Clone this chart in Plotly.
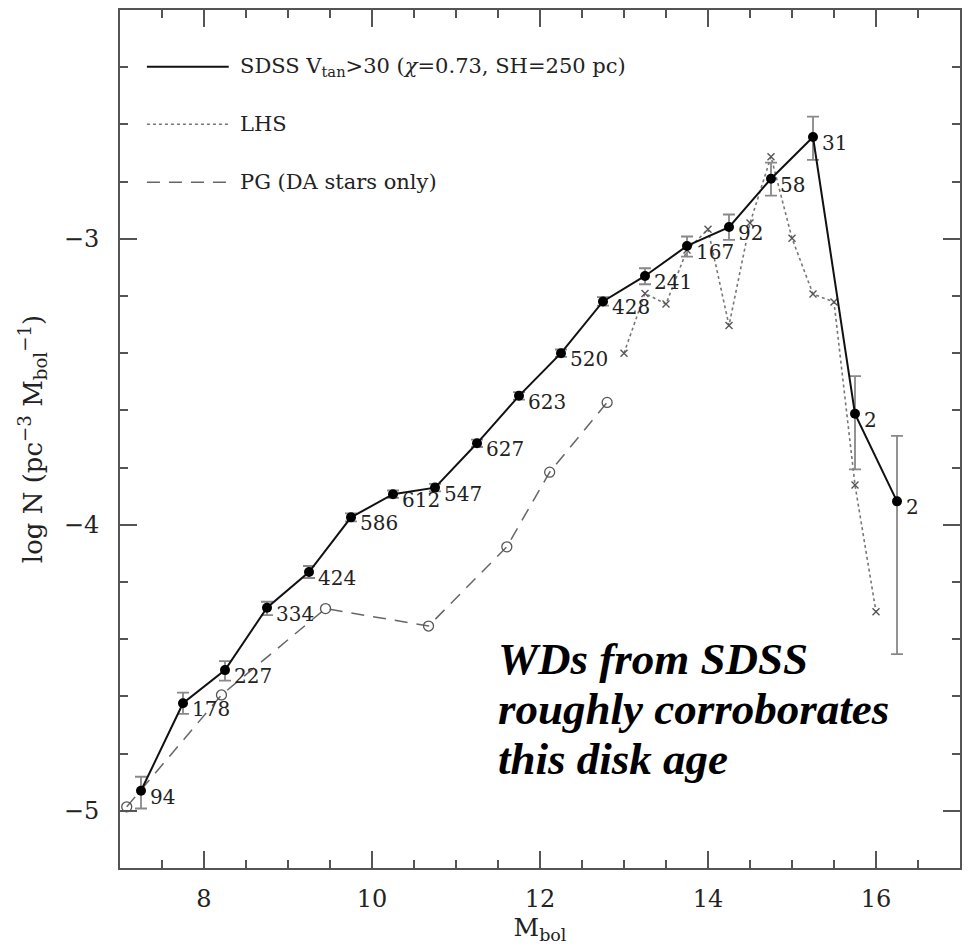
import plotly.graph_objects as go

# ---------------- data ----------------
sdss_m = [7.25, 7.75, 8.25, 8.75, 9.25, 9.75, 10.25, 10.75, 11.25, 11.75,
          12.25, 12.75, 13.25, 13.75, 14.25, 14.75, 15.25, 15.75, 16.25]
sdss_logn = [-4.930, -4.624, -4.508, -4.290, -4.165, -3.974, -3.893, -3.870,
             -3.715, -3.549, -3.400, -3.219, -3.130, -3.025, -2.959, -2.790,
             -2.644, -3.612, -3.918]
sdss_err_up = [0.049, 0.037, 0.031, 0.021, 0.021, 0.014, 0.013, 0.013, 0.013,
               0.013, 0.013, 0.015, 0.027, 0.033, 0.044, 0.056, 0.071, 0.132, 0.229]
sdss_err_dn = [0.062, 0.037, 0.037, 0.026, 0.021, 0.014, 0.013, 0.013, 0.013,
               0.013, 0.013, 0.015, 0.029, 0.037, 0.045, 0.059, 0.080, 0.194, 0.534]
sdss_counts = ["94", "178", "227", "334", "424", "586", "612", "547", "627",
               "623", "520", "428", "241", "167", "92", "58", "31", "2", "2"]

lhs_m = [13.0, 13.25, 13.5, 13.75, 14.0, 14.25, 14.5, 14.75, 15.0, 15.25,
         15.5, 15.75, 16.0]
lhs_logn = [-3.400, -3.191, -3.228, -3.039, -2.967, -3.303, -2.945, -2.713,
            -2.998, -3.193, -3.221, -3.861, -4.304]

pg_m = [7.080, 8.208, 9.447, 10.673, 11.605, 12.115, 12.799]
pg_logn = [-4.986, -4.595, -4.293, -4.354, -4.077, -3.816, -3.572]

x_ticks = [8, 10, 12, 14, 16]
y_ticks = [-5, -4, -3]

legend_labels = [
    "SDSS V<sub>tan</sub>>30 (<i>χ</i>=0.73, SH=250 pc)",
    "LHS",
    "PG (DA stars only)",
]
note_lines = ["WDs from SDSS", "roughly corroborates", "this disk age"]

# ---------------- style ----------------
W, H = 967, 948
ML, MR, MT, MB = 120, 5, 10, 80
TXT = "#222222"
AX = "#555555"
SERIF = "DejaVu Serif, Liberation Serif, serif"
NOTE_FONT = "Palatino Linotype, Book Antiqua, Palatino, Liberation Serif, serif"

fig = go.Figure()

# LHS dotted
fig.add_trace(go.Scatter(
    x=lhs_m, y=lhs_logn, mode="lines+markers",
    line=dict(color="#777777", width=1.6, dash="dot"),
    marker=dict(symbol="x-thin", size=7, line=dict(color="#555555", width=1.4)),
    showlegend=False, hoverinfo="skip"))

# PG dashed
fig.add_trace(go.Scatter(
    x=pg_m, y=pg_logn, mode="lines+markers",
    line=dict(color="#666666", width=1.5, dash="13px,9px"),
    marker=dict(symbol="circle-open", size=10, color="#555555",
                line=dict(color="#555555", width=1.3)),
    showlegend=False, hoverinfo="skip"))

# SDSS solid with errors
fig.add_trace(go.Scatter(
    x=sdss_m, y=sdss_logn, mode="lines+markers",
    line=dict(color="#111111", width=2),
    marker=dict(symbol="circle", size=10, color="#000000"),
    error_y=dict(type="data", symmetric=False, array=sdss_err_up,
                 arrayminus=sdss_err_dn, color="#888888", thickness=1.8, width=6),
    showlegend=False, hoverinfo="skip"))

# count labels next to SDSS points
for m, v, c in zip(sdss_m, sdss_logn, sdss_counts):
    fig.add_annotation(x=m, y=v, text=c, showarrow=False, xanchor="left",
                       yanchor="middle", xshift=7, yshift=-6,
                       font=dict(family=SERIF, size=20, color=TXT))

# manual legend (line sample + label), in paper coordinates
plot_w = W - ML - MR
plot_h = H - MT - MB
def px_x(px):
    return (px - ML) / plot_w
def px_y(py):
    return 1 - (py - MT) / plot_h

leg_rows = [66.7, 124.3, 182.3]
leg_styles = [dict(color="#111111", width=2, dash="solid"),
              dict(color="#777777", width=1.6, dash="dot"),
              dict(color="#666666", width=1.5, dash="13px,9px")]
for yy, lab, st in zip(leg_rows, legend_labels, leg_styles):
    fig.add_shape(type="line", xref="paper", yref="paper",
                  x0=px_x(147), x1=px_x(229), y0=px_y(yy), y1=px_y(yy),
                  line=st)
    fig.add_annotation(xref="paper", yref="paper", x=px_x(238), y=px_y(yy),
                       text=lab, showarrow=False, xanchor="left", yanchor="middle",
                       font=dict(family=SERIF, size=21, color=TXT))

# the big note, one annotation per line for tighter spacing
note_rows = [659, 709, 759]
for yy, line_txt in zip(note_rows, note_lines):
    fig.add_annotation(xref="paper", yref="paper", x=px_x(497), y=px_y(yy),
                       text="<b><i>" + line_txt + "</i></b>", showarrow=False,
                       xanchor="left", yanchor="middle", align="left",
                       font=dict(family=NOTE_FONT, size=45, color="#000000"))

axis_common = dict(showline=True, linecolor=AX, linewidth=2, mirror="allticks",
                   ticks="inside", ticklen=17, tickwidth=1.6, tickcolor=AX,
                   showgrid=False, zeroline=False,
                   tickfont=dict(family=SERIF, size=24, color=TXT))

fig.update_xaxes(range=[7, 17], tickvals=x_ticks,
                 minor=dict(ticks="inside", ticklen=8, dtick=0.5, tick0=0,
                            tickcolor=AX, tickwidth=1.6, showgrid=False),
                 title=dict(text="M<sub>bol</sub>", font=dict(family=SERIF, size=25, color=TXT),
                            standoff=6),
                 ticklabelstandoff=8,
                 **axis_common)
fig.update_yaxes(range=[-5.2, -2.2], tickvals=y_ticks,
                 minor=dict(ticks="inside", ticklen=8, dtick=0.2, tick0=0,
                            tickcolor=AX, tickwidth=1.6, showgrid=False),
                 title=dict(text="log N (pc<sup>−3</sup> M<sub>bol</sub><sup>−1</sup>)",
                            font=dict(family=SERIF, size=26, color=TXT), standoff=14),
                 ticklabelstandoff=14,
                 **axis_common)

fig.update_layout(width=W, height=H,
                  margin=dict(l=ML, r=MR, t=MT, b=MB, pad=0),
                  plot_bgcolor="white", paper_bgcolor="white",
                  showlegend=False)

fig.write_html("out.html")
